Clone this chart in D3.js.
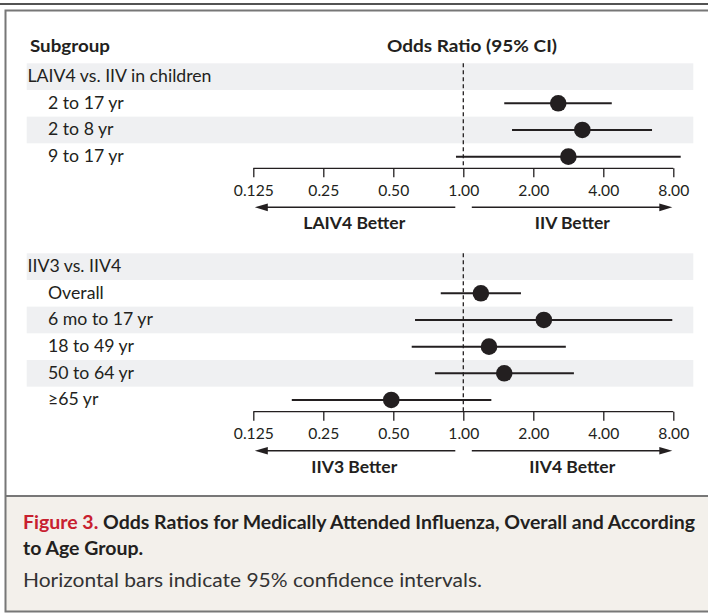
<!DOCTYPE html>
<html>
<head>
<meta charset="utf-8">
<script src="https://cdn.jsdelivr.net/npm/d3@7"></script>
<style>
  html, body { margin: 0; padding: 0; background: #fff; }
  svg { display: block; }
  text { font-family: Lato, "Open Sans", sans-serif; fill: #231f20; }
</style>
</head>
<body>
<svg id="chart" width="708" height="615"></svg>
<script>
// ---------------- data ----------------
const panel1Title = "LAIV4 vs. IIV in children";
const panel1Labels = ["2 to 17 yr", "2 to 8 yr", "9 to 17 yr"];
const panel1OR = [2.56, 3.25, 2.83];
const panel1Lo = [1.50, 1.62, 0.93];
const panel1Hi = [4.35, 6.48, 8.61];
const panel1Left = "LAIV4 Better";
const panel1Right = "IIV Better";

const panel2Title = "IIV3 vs. IIV4";
const panel2Labels = ["Overall", "6 mo to 17 yr", "18 to 49 yr", "50 to 64 yr", "\u226565 yr"];
const panel2OR = [1.19, 2.22, 1.29, 1.50, 0.49];
const panel2Lo = [0.80, 0.62, 0.60, 0.755, 0.183];
const panel2Hi = [1.77, 7.92, 2.76, 2.99, 1.32];
const panel2Left = "IIV3 Better";
const panel2Right = "IIV4 Better";

const tickValues = [0.125, 0.25, 0.5, 1, 2, 4, 8];
const tickLabels = ["0.125", "0.25", "0.50", "1.00", "2.00", "4.00", "8.00"];

const headerLeft = "Subgroup";
const headerRight = "Odds Ratio (95% CI)";
const captionFig = "Figure 3.";
const captionTitle1 = " Odds Ratios for Medically Attended Influenza, Overall and According";
const captionTitle2 = "to Age Group.";
const captionNote = "Horizontal bars indicate 95% confidence intervals.";

// ---------------- layout ----------------
const W = 708, H = 615;
const ink = "#231f20";
const band = "#eff0f2";
const rowH = 26.67;
const svg = d3.select("#chart");

// scale a text element's font size so that its width equals target
function fit(sel, target) {
  const w = sel.node().getComputedTextLength();
  const fs = parseFloat(sel.attr("font-size"));
  if (w > 0) sel.attr("font-size", (fs * target / w).toFixed(2));
  return sel;
}
// squeeze a text horizontally to the target width
function squeeze(sel, target) {
  sel.attr("textLength", target).attr("lengthAdjust", "spacingAndGlyphs");
  return sel;
}

const x = d3.scaleLog().base(2).domain([0.125, 8]).range([253.3, 673.3]);

svg.append("rect").attr("width", W).attr("height", H).attr("fill", "#fff");

// top rule
svg.append("line").attr("x1", 0).attr("x2", W).attr("y1", 4).attr("y2", 4)
  .attr("stroke", "#1a1a1a").attr("stroke-width", 1.5);

// caption background
svg.append("rect").attr("x", 5).attr("y", 496).attr("width", W).attr("height", 115.5)
  .attr("fill", "#f3f0eb");
// box frame
svg.append("path")
  .attr("d", `M${W + 5},10.5 H5.5 V611.5 H${W + 5}`)
  .attr("fill", "none").attr("stroke", "#777").attr("stroke-width", 2);
svg.append("line").attr("x1", 5).attr("x2", W).attr("y1", 496).attr("y2", 496)
  .attr("stroke", "#777").attr("stroke-width", 2);

// header
squeeze(svg.append("text").attr("x", 30).attr("y", 51.5).attr("font-size", 17)
  .attr("font-weight", "bold").text(headerLeft), 80);
squeeze(svg.append("text").attr("x", 387).attr("y", 51.5).attr("font-size", 17)
  .attr("font-weight", "bold").text(headerRight), 170);

// shared font sizes measured on panel 1
let labelSize = null, betterSize = null, tickSize = null;

function drawPanel(top, title, labels, or, lo, hi, leftTxt, rightTxt) {
  const g = svg.append("g");
  const n = labels.length;
  const yc = i => top + rowH / 2 + rowH * i; // i = 0 header row
  // bands: header and every other row
  const bandRows = [0].concat(d3.range(1, n + 1).filter(i => i % 2 === 0));
  g.selectAll("rect.band").data(bandRows).join("rect")
    .attr("x", 26.7).attr("width", 666.6)
    .attr("y", i => top + rowH * i).attr("height", rowH)
    .attr("fill", band);

  const axisY = yc(n) + 11.7;
  // dashed reference line
  g.append("line").attr("x1", x(1)).attr("x2", x(1))
    .attr("y1", top).attr("y2", axisY)
    .attr("stroke", ink).attr("stroke-width", 1.3).attr("stroke-dasharray", "4,3");

  // labels
  const t0 = g.append("text").attr("x", 27.5).attr("y", yc(0) + 5.3)
    .attr("font-size", 15.5).text(title);
  if (labelSize === null) { fit(t0, 184); labelSize = t0.attr("font-size"); }
  t0.attr("font-size", labelSize);
  g.selectAll("text.row").data(labels).join("text")
    .attr("class", "row")
    .attr("x", 48).attr("y", (d, i) => yc(i + 1) + 5.3)
    .attr("font-size", labelSize).text(d => d);

  // CI lines and points
  const rows = labels.map((d, i) => ({ i, or: or[i], lo: lo[i], hi: hi[i] }));
  g.selectAll("line.ci").data(rows).join("line")
    .attr("x1", d => x(d.lo)).attr("x2", d => x(d.hi))
    .attr("y1", d => yc(d.i + 1)).attr("y2", d => yc(d.i + 1))
    .attr("stroke", ink).attr("stroke-width", 2);
  g.selectAll("circle.pt").data(rows).join("circle")
    .attr("cx", d => x(d.or)).attr("cy", d => yc(d.i + 1)).attr("r", 8.3)
    .attr("fill", ink);

  // axis
  const axis = d3.axisBottom(x).tickValues(tickValues)
    .tickFormat((d, i) => tickLabels[i]).tickSize(9).tickPadding(6);
  const ag = g.append("g").attr("transform", `translate(0,${axisY})`).call(axis);
  ag.select(".domain").attr("d", `M${x(0.125)},0H${x(8)}`)
    .attr("stroke", ink).attr("stroke-width", 1.3);
  ag.selectAll(".tick line").attr("stroke", ink).attr("stroke-width", 1.3);
  const tt = ag.selectAll(".tick text").attr("font-family", "Lato, sans-serif")
    .attr("font-size", 15.5).attr("fill", ink).attr("dy", null).attr("y", 27.7);
  if (tickSize === null) {
    const first = d3.select(tt.nodes()[0]);
    fit(first, 40); tickSize = first.attr("font-size");
  }
  tt.attr("font-size", tickSize);

  // arrows
  const ay = axisY + 39;
  const arrow = (x1, x2) => {
    const dir = Math.sign(x2 - x1);
    g.append("line").attr("x1", x1).attr("x2", x2 - dir * 8).attr("y1", ay).attr("y2", ay)
      .attr("stroke", ink).attr("stroke-width", 1.5);
    g.append("path")
      .attr("d", `M${x2},${ay} L${x2 - dir * 13},${ay - 3.8} L${x2 - dir * 13},${ay + 3.8} Z`)
      .attr("fill", ink);
  };
  arrow(x(1) - 8, x(0.125) + 1.5);
  arrow(x(1) + 8.5, x(8) - 1);
  const lt = g.append("text").attr("x", (x(1) - 8 + x(0.125)) / 2).attr("y", axisY + 61)
    .attr("text-anchor", "middle").attr("font-size", 15.5).attr("font-weight", "bold")
    .text(leftTxt);
  if (betterSize === null) { fit(lt, 102); betterSize = lt.attr("font-size"); }
  lt.attr("font-size", betterSize);
  g.append("text").attr("x", (x(1) + 8 + x(8)) / 2).attr("y", axisY + 61)
    .attr("text-anchor", "middle").attr("font-size", betterSize).attr("font-weight", "bold")
    .text(rightTxt);
}

drawPanel(63.3, panel1Title, panel1Labels, panel1OR, panel1Lo, panel1Hi, panel1Left, panel1Right);
drawPanel(253.3, panel2Title, panel2Labels, panel2OR, panel2Lo, panel2Hi, panel2Left, panel2Right);

// caption
const capSize = 18.5;
const c1 = svg.append("text").attr("x", 23).attr("y", 528.5).attr("font-size", capSize)
  .attr("font-weight", "bold");
c1.append("tspan").attr("fill", "#c8202f").style("fill", "#c8202f").text(captionFig);
c1.append("tspan").text(captionTitle1);
const natural1 = c1.node().getComputedTextLength();
const ratio = 672 / natural1;
squeeze(c1, 672);
const c2 = svg.append("text").attr("x", 23).attr("y", 554.5).attr("font-size", capSize)
  .attr("font-weight", "bold").text(captionTitle2);
squeeze(c2, c2.node().getComputedTextLength() * ratio);
squeeze(svg.append("text").attr("x", 23).attr("y", 586.5).attr("font-size", capSize)
  .attr("fill", "#333").style("fill", "#333").text(captionNote), 459);
</script>
</body>
</html>
